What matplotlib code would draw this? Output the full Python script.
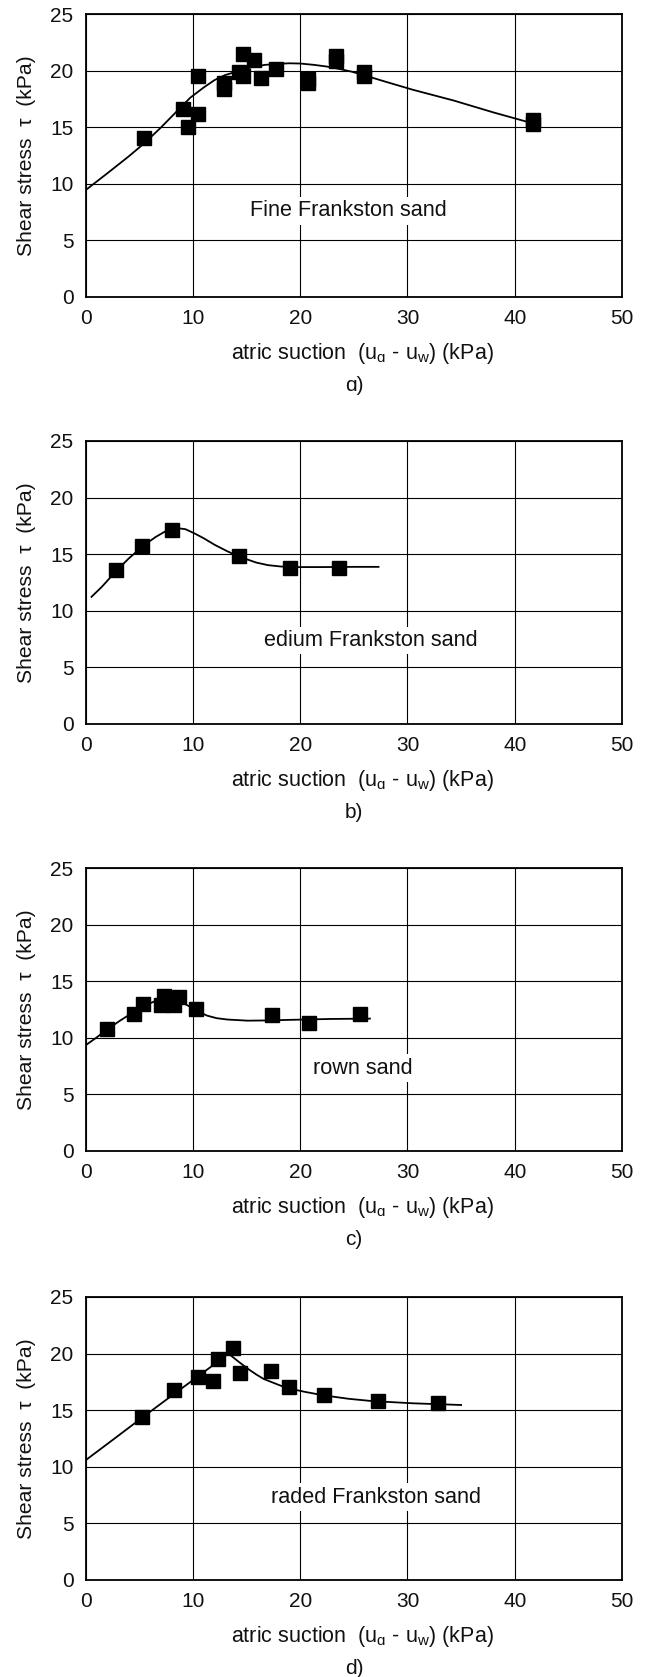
import matplotlib
matplotlib.use("Agg")
import matplotlib.pyplot as plt

plt.rcParams['font.family'] = ['Liberation Sans', 'DejaVu Sans']
plt.rcParams['mathtext.fontset'] = 'custom'
plt.rcParams['mathtext.rm'] = 'Liberation Sans'

# ---- measured points: matric suction (kPa) vs shear stress (kPa) ----
fine_x = [5.45, 9.1, 9.5, 10.5, 10.45, 12.94, 12.94, 14.3, 14.67, 14.67,
          15.67, 16.36, 17.74, 20.7, 20.7, 23.3, 23.3, 25.96, 25.96, 41.7, 41.7]
fine_y = [14.06, 16.6, 14.98, 19.5, 16.2, 18.9, 18.4, 19.9, 21.5, 19.5,
          20.9, 19.34, 20.1, 19.25, 18.9, 21.3, 20.85, 19.85, 19.5, 15.6, 15.3]

medium_x = [2.84, 5.26, 8.03, 14.29, 19.05, 23.66]
medium_y = [13.57, 15.72, 17.1, 14.81, 13.81, 13.75]

brown_x = [2.0, 4.49, 5.34, 6.99, 7.33, 8.22, 8.68, 10.33, 17.4, 20.8, 25.58]
brown_y = [10.75, 12.13, 13.0, 12.87, 13.69, 12.87, 13.6, 12.57, 11.98, 11.25, 12.13]

graded_x = [5.22, 8.22, 10.45, 11.9, 12.33, 13.71, 14.36, 17.24, 18.97, 22.24, 27.27, 32.87]
graded_y = [14.4, 16.76, 17.93, 17.55, 19.55, 20.5, 18.29, 18.43, 17.02, 16.37, 15.81, 15.67]

# ---- fitted trend curves ----
fine_cx = [0, 2, 4, 5.5, 7, 8.5, 9.75, 11, 12, 13, 14.4, 15.5, 16.7, 18, 19, 20,
           21.3, 22.5, 23.6, 24.8, 25.9, 28, 30.5, 34.3, 38, 41.6]
fine_cy = [9.43, 10.9, 12.4, 13.6, 14.95, 16.4, 17.6, 18.5, 19.15, 19.6, 20.0, 20.3,
           20.5, 20.6, 20.64, 20.62, 20.5, 20.35, 20.15, 19.9, 19.6, 19.0, 18.3,
           17.35, 16.3, 15.35]

medium_cx = [0.54, 1.5, 2.84, 4, 5.26, 6.5, 7.5, 8.5, 9.3, 10.1, 11, 12.06, 13.2,
             14.29, 15.9, 17, 18.2, 19.5, 22, 25, 27.3]
medium_cy = [11.22, 12.1, 13.5, 14.6, 15.65, 16.5, 17.05, 17.3, 17.2, 16.85, 16.4,
             15.8, 15.25, 14.78, 14.25, 14.02, 13.9, 13.85, 13.85, 13.87, 13.87]

brown_cx = [0, 1, 2, 3.2, 4.5, 5.9, 6.8, 7.5, 8.3, 9, 9.75, 10.5, 11.3, 12.2, 13.2,
            15.1, 17, 19, 22.8, 26.5]
brown_cy = [9.33, 10.0, 10.72, 11.5, 12.28, 13.0, 13.35, 13.45, 13.35, 13.1, 12.72,
            12.3, 11.95, 11.72, 11.6, 11.5, 11.52, 11.57, 11.65, 11.68]

graded_cx = [0, 2.5, 5.22, 8.2, 10.5, 12.06, 13.3, 14.36, 15.2, 15.9, 16.6, 17.4,
             18.2, 19, 20.5, 22.2, 24.5, 26.65, 30.5, 35]
graded_cy = [10.57, 12.35, 14.3, 16.4, 18.0, 19.1, 20.0, 19.2, 18.6, 18.15, 17.75,
             17.45, 17.15, 16.9, 16.6, 16.3, 16.0, 15.8, 15.6, 15.45]

panels = [
    ("Fine Frankston sand", fine_x, fine_y, fine_cx, fine_cy, (24.5, 7.6), "\u0251)"),
    ("edium Frankston sand", medium_x, medium_y, medium_cx, medium_cy, (26.6, 7.35), "b)"),
    ("rown sand", brown_x, brown_y, brown_cx, brown_cy, (25.8, 7.3), "c)"),
    ("raded Frankston sand", graded_x, graded_y, graded_cx, graded_cy, (27.1, 7.3), "d)"),
]

W, H = 647, 1677
fig = plt.figure(figsize=(W / 100, H / 100), dpi=100)

ax_left, ax_w, ax_h = 85.7, 536.3, 282.7
tops = [14, 441, 868, 1297]

xlabel = "atric suction  (u$_{\\mathregular{\u0251}}$ - u$_{\\mathregular{w}}$) (kPa)"
ylabel = "Shear stress  \u03c4  (kPa)"

for (name, px, py, cx, cy, tpos, tag), top in zip(panels, tops):
    bottom_px = top + ax_h
    ax = fig.add_axes([ax_left / W, 1 - bottom_px / H, ax_w / W, ax_h / H])
    ax.set_xlim(0, 50)
    ax.set_ylim(0, 25)
    ax.set_xticks([0, 10, 20, 30, 40, 50])
    ax.set_yticks([0, 5, 10, 15, 20, 25])
    ax.grid(True, color='black', linewidth=0.8)
    ax.set_axisbelow(True)
    for s in ax.spines.values():
        s.set_linewidth(1.3)
        s.set_color('black')
    ax.tick_params(length=0, labelsize=15, pad=8.7, colors='#111111')

    ax.plot(cx, cy, color='black', linewidth=1.3, zorder=3)
    ax.plot(px, py, linestyle='none', marker='s', markersize=9.5,
            color='black', zorder=4)

    ax.text(tpos[0], tpos[1], name, fontsize=15.6, ha='center', va='center',
            zorder=5, color='#111111',
            bbox=dict(boxstyle='square,pad=0.15', facecolor='white',
                      edgecolor='none'))

    ax.set_ylabel(ylabel, fontsize=15.2, labelpad=10, color='#111111')
    fig.text(362 / W, 1 - (bottom_px + 57) / H, xlabel,
             fontsize=15.5, ha='center', va='center', color='#111111')
    fig.text(354 / W, 1 - (bottom_px + 89) / H, tag,
             fontsize=15, ha='center', va='center', color='#111111')

fig.savefig("out.png", dpi=100)
